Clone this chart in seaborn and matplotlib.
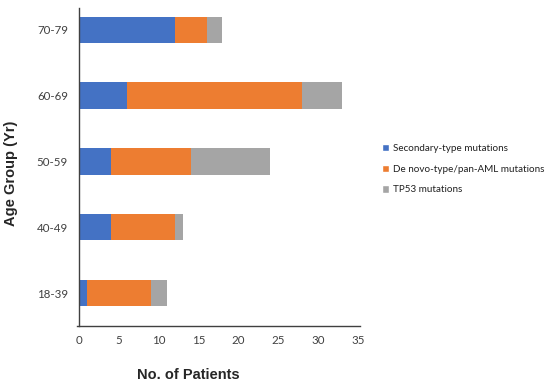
import pandas as pd
import matplotlib.pyplot as plt
import seaborn as sns
from matplotlib.patches import Patch

# values
age_groups = ['70-79', '60-69', '50-59', '40-49', '18-39']
secondary = [12, 6, 4, 4, 1]
de_novo = [4, 22, 10, 8, 8]
tp53 = [2, 5, 10, 1, 2]

series_names = ['Secondary-type mutations', 'De novo-type/pan-AML mutations', 'TP53 mutations']
colors = ['#4472C4', '#ED7D31', '#A5A5A5']

data = pd.DataFrame({'age': age_groups, 'secondary': secondary,
                     'de_novo': de_novo, 'tp53': tp53})
data['cum1'] = data['secondary']
data['cum2'] = data['cum1'] + data['de_novo']
data['cum3'] = data['cum2'] + data['tp53']

sns.set_style('white')
plt.rcParams['font.family'] = ['Lato', 'DejaVu Sans']

fig = plt.figure(figsize=(5.5, 3.86), dpi=100)
ax = fig.add_axes([0.1393, 0.1554, 0.5145, 0.824])

# stacked: draw the totals first, then the partial sums on top
for col, c in zip(['cum3', 'cum2', 'cum1'], colors[::-1]):
    sns.barplot(x=col, y='age', data=data, color=c, orient='h', width=0.4,
                order=age_groups, ax=ax, saturation=1, linewidth=0)

ax.set_xlim(-0.3, 35.2)
ax.set_ylim(4.5, -0.33)
ax.set_xticks(range(0, 36, 5))
sns.despine(ax=ax, top=True, right=True)
for s in ['left', 'bottom']:
    ax.spines[s].set_color('#404040')
    ax.spines[s].set_linewidth(1.0)
ax.spines['left'].set_position(('data', 0))
ax.tick_params(axis='x', direction='inout', length=5, width=0.8, color='#808080',
               labelsize=8.3, labelcolor='#404040', pad=4)
ax.tick_params(axis='y', length=0, labelsize=8.3, labelcolor='#404040', pad=8)

ax.set_xlabel('')
ax.set_ylabel('')
fig.text(188 / 550, 1 - 375 / 386, 'No. of Patients', family='Liberation Sans',
         fontweight='bold', fontsize=10.5, ha='center', va='center')
fig.text(11 / 550, 1 - 173 / 386, 'Age Group (Yr)', family='Liberation Sans',
         fontweight='bold', fontsize=10.5, ha='center', va='center', rotation=90)

handles = [Patch(facecolor=c, label=n) for c, n in zip(colors, series_names)]
fig.legend(handles=handles, loc='center left', bbox_to_anchor=(0.694, 0.562),
           frameon=False, fontsize=7.1, handlelength=0.75, handleheight=0.75,
           handletextpad=0.4, labelspacing=1.2, borderpad=0, borderaxespad=0,
           labelcolor='#202020')

fig.savefig('out.png', dpi=100)
